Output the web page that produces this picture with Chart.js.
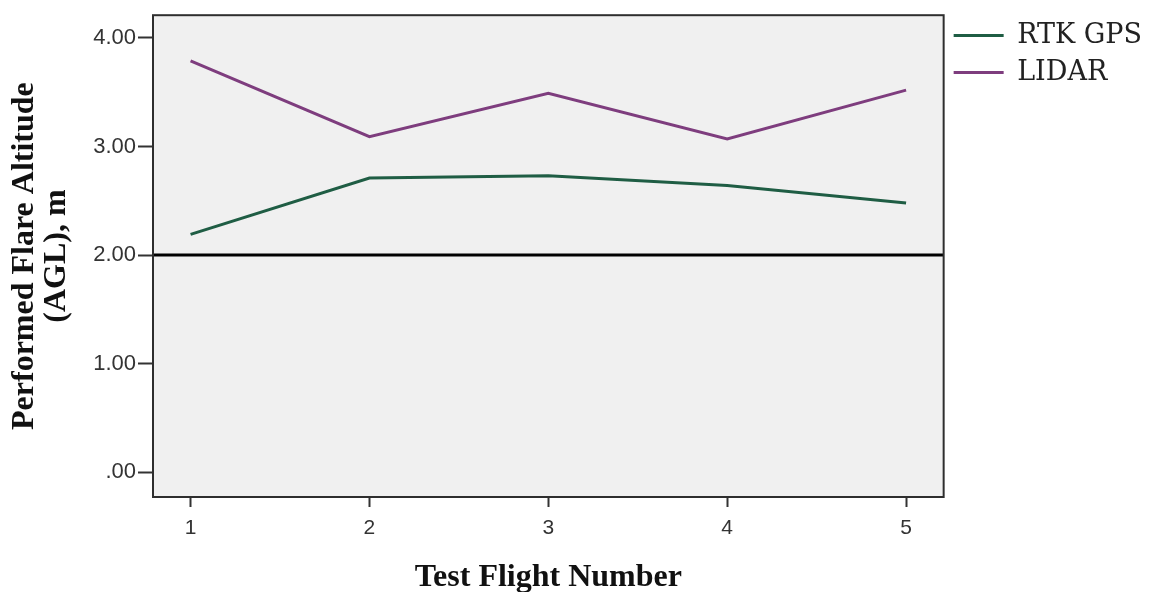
<!DOCTYPE html>
<html>
<head>
<meta charset="utf-8">
<title>Performed Flare Altitude</title>
<script src="https://cdn.jsdelivr.net/npm/chart.js@4.4.1/dist/chart.umd.min.js"></script>
<style>
  html, body { margin: 0; padding: 0; background: #fff; }
  #wrap { width: 1152px; height: 592px; }
</style>
</head>
<body>
<div id="wrap"><canvas id="flareChart" width="1152" height="592"></canvas></div>
<script>
/* ---- data ---- */
const flights = [1, 2, 3, 4, 5];
const rtkGps = [2.19, 2.71, 2.73, 2.64, 2.48];
const lidar = [3.79, 3.09, 3.49, 3.07, 3.52];
const yTickValues = [0, 1, 2, 3, 4];
const yTickLabels = [".00", "1.00", "2.00", "3.00", "4.00"];
const thresholdAltitude = 2.0;

const toPoints = vals => flights.map((f, i) => ({ x: f, y: vals[i] }));

/* plot background, frame and the 2 m reference line */
const framePlugin = {
  id: "frame",
  beforeDraw(chart) {
    const { ctx, chartArea: a } = chart;
    ctx.save();
    ctx.fillStyle = "#f0f0f0";
    ctx.fillRect(a.left, a.top, a.right - a.left, a.bottom - a.top);
    ctx.restore();
  },
  beforeDatasetsDraw(chart) {
    const { ctx, chartArea: a, scales } = chart;
    const y = scales.y.getPixelForValue(thresholdAltitude);
    ctx.save();
    ctx.strokeStyle = "#000";
    ctx.lineWidth = 3;
    ctx.beginPath();
    ctx.moveTo(a.left, y);
    ctx.lineTo(a.right, y);
    ctx.stroke();
    ctx.restore();
  },
  afterDraw(chart) {
    const { ctx, chartArea: a } = chart;
    ctx.save();
    ctx.strokeStyle = "#2e2e2e";
    ctx.lineWidth = 2;
    ctx.strokeRect(a.left, a.top, a.right - a.left, a.bottom - a.top);
    ctx.restore();
  }
};

new Chart(document.getElementById("flareChart"), {
  type: "line",
  data: {
    datasets: [
      {
        label: "RTK GPS",
        data: toPoints(rtkGps),
        borderColor: "#1f5d44",
        backgroundColor: "#1f5d44",
        borderWidth: 3,
        pointRadius: 0,
        tension: 0
      },
      {
        label: "LIDAR",
        data: toPoints(lidar),
        borderColor: "#7e3d7e",
        backgroundColor: "#7e3d7e",
        borderWidth: 3,
        pointRadius: 0,
        tension: 0
      }
    ]
  },
  options: {
    responsive: false,
    animation: false,
    layout: { padding: { top: 12, left: 9, right: 0, bottom: 0 } },
    plugins: {
      legend: {
        position: "right",
        align: "start",
        labels: {
          usePointStyle: true,
          pointStyle: "line",
          pointStyleWidth: 50,
          padding: 10,
          color: "#222",
          font: { family: "DejaVu Serif", size: 27 }
        }
      },
      tooltip: { enabled: false }
    },
    scales: {
      x: {
        type: "linear",
        min: 0.79,
        max: 5.21,
        afterBuildTicks(scale) {
          scale.ticks = flights.map(v => ({ value: v }));
        },
        afterFit(scale) { scale.height = 95; },
        border: { display: false },
        grid: {
          drawOnChartArea: false,
          drawTicks: true,
          tickLength: 10,
          tickWidth: 2,
          tickColor: "#333"
        },
        ticks: {
          padding: 9,
          color: "#333",
          font: { family: "Liberation Sans", size: 21 },
          callback: v => String(v)
        },
        title: {
          display: true,
          text: "Test Flight Number",
          color: "#111",
          padding: { top: 0, bottom: -5 },
          font: { family: "Liberation Serif", size: 32, weight: "bold" }
        }
      },
      y: {
        min: -0.23,
        max: 4.21,
        afterBuildTicks(scale) {
          scale.ticks = yTickValues.map(v => ({ value: v }));
        },
        afterFit(scale) { scale.width = 144; },
        border: { display: false },
        grid: {
          drawOnChartArea: false,
          drawTicks: true,
          tickLength: 15,
          tickWidth: 2,
          tickColor: "#333"
        },
        ticks: {
          padding: 2,
          color: "#333",
          font: { family: "Liberation Sans", size: 22 },
          callback: v => yTickLabels[yTickValues.indexOf(v)]
        },
        title: {
          display: true,
          text: ["Performed Flare Altitude", "(AGL), m"],
          color: "#111",
          padding: { top: 0, bottom: 0 },
          font: { family: "Liberation Serif", size: 32, weight: "bold", lineHeight: 1.0 }
        }
      }
    }
  },
  plugins: [framePlugin]
});
</script>
</body>
</html>
